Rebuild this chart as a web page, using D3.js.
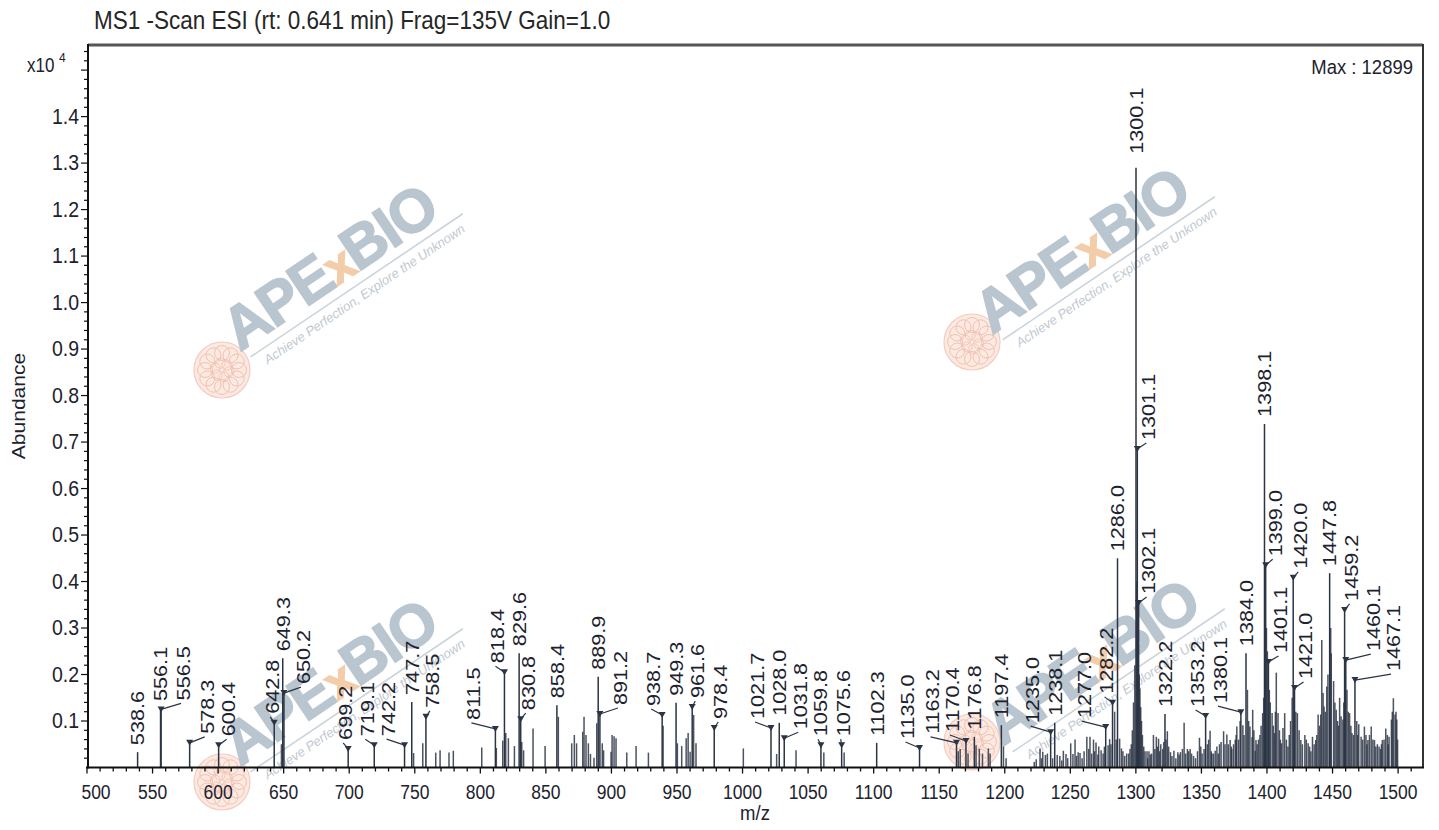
<!DOCTYPE html>
<html><head><meta charset="utf-8">
<script src="https://cdn.jsdelivr.net/npm/d3@7"></script>
<style>html,body{margin:0;padding:0;background:#fff;} svg{display:block;font-family:"Liberation Sans",Arial,Helvetica,sans-serif;}</style>
</head><body><svg id="chart" width="1439" height="830"></svg>
<script>
// ---------------- DATA (abundance in units of x10^4) ----------------
const titleText = "MS1 -Scan ESI (rt: 0.641 min) Frag=135V Gain=1.0";
const maxText = "Max : 12899";
const labeledMz = [538.6, 556.1, 556.5, 578.3, 600.4, 642.8, 649.3, 650.2, 699.2, 719.1, 742.2, 747.7, 758.5, 811.5, 818.4, 829.6, 830.8, 858.4, 889.9, 891.2, 938.7, 949.3, 961.6, 978.4, 1021.7, 1028.0, 1031.8, 1059.8, 1075.6, 1102.3, 1135.0, 1163.2, 1170.4, 1176.8, 1197.4, 1235.0, 1238.1, 1277.0, 1282.2, 1286.0, 1300.1, 1301.1, 1302.1, 1322.2, 1353.2, 1380.1, 1384.0, 1398.1, 1399.0, 1401.1, 1420.0, 1421.0, 1447.8, 1459.2, 1460.1, 1467.1];
const labeledAbundance = [0.033, 0.128, 0.125, 0.053, 0.048, 0.096, 0.235, 0.160, 0.040, 0.048, 0.048, 0.141, 0.109, 0.083, 0.205, 0.246, 0.104, 0.134, 0.195, 0.115, 0.113, 0.139, 0.130, 0.085, 0.085, 0.096, 0.063, 0.048, 0.048, 0.053, 0.042, 0.053, 0.057, 0.066, 0.091, 0.076, 0.096, 0.087, 0.139, 0.450, 1.2899, 0.685, 0.354, 0.115, 0.111, 0.119, 0.246, 0.739, 0.435, 0.227, 0.408, 0.171, 0.418, 0.339, 0.231, 0.188];
const minorPeaks = [
 [648.3,0.05],[749.1,0.031],[756.1,0.052],[766.0,0.032],[769.3,0.037],[776.1,0.032],[779.4,0.036],[801.1,0.043],[812.2,0.042],[817.1,0.058],[819.4,0.074],[821.4,0.063],[826.0,0.046],[831.6,0.055],[833.0,0.037],[840.2,0.084],[849.4,0.046],[859.5,0.109],[869.7,0.052],[871.7,0.070],[873.4,0.052],[878.1,0.077],[879.1,0.109],[880.6,0.070],[882.4,0.052],[884.0,0.029],[886.7,0.021],[888.8,0.095],[893.0,0.052],[894.0,0.037],[899.7,0.034],[900.5,0.070],[902.0,0.067],[903.5,0.063],[911.7,0.032],[918.8,0.046],[928.2,0.032],[939.4,0.090],[950.3,0.052],[953.6,0.046],[957.0,0.063],[958.5,0.074],[960.0,0.034],[962.7,0.113],[964.5,0.052],[1000.6,0.041],[1026.0,0.029],[1040.8,0.037],[1062.0,0.032],[1077.5,0.032],
 [1164.5,0.035],[1166.0,0.040],[1172.0,0.030],[1178.1,0.048],[1180.6,0.040],[1183.0,0.030],[1187.5,0.041],[1188.8,0.030],[1199.0,0.045],[1201.0,0.020],
 [1222.5,0.012],[1224.0,0.018],[1226.9,0.041],[1228.0,0.020],[1229.0,0.034],[1231.0,0.027],[1232.5,0.030],[1236.5,0.020],[1240.0,0.027],[1242.0,0.025],[1243.5,0.015],[1244.7,0.036],[1246.7,0.029],[1248.0,0.020],[1250.3,0.052],[1252.0,0.029],[1253.6,0.060],[1254.8,0.025],[1256.0,0.033],[1257.4,0.031],[1259.0,0.020],[1260.5,0.035],[1262.6,0.066],[1264.0,0.040],[1265.0,0.066],[1266.3,0.030],[1267.7,0.060],[1268.5,0.035],[1269.6,0.054],[1271.0,0.028],[1271.7,0.045],[1273.5,0.037],[1275.0,0.030],[1276.0,0.045],[1278.8,0.048],[1280.0,0.061],[1281.0,0.050],[1283.8,0.120],[1285.0,0.060],[1287.6,0.062],[1289.0,0.041],[1290.1,0.035],[1291.5,0.025],[1293.0,0.030],[1294.5,0.030],[1295.5,0.040],
 [1296.5,0.050],[1297.3,0.080],[1298.2,0.140],[1299.2,0.220],[1300.6,0.400],[1301.6,0.280],[1302.6,0.200],[1303.1,0.170],[1303.7,0.130],[1304.3,0.100],[1305.0,0.070],[1306.0,0.045],
 [1307.0,0.035],[1308.5,0.035],[1309.0,0.020],[1310.0,0.035],[1311.0,0.028],[1312.0,0.030],[1313.4,0.070],[1314.5,0.040],[1315.6,0.066],[1316.5,0.045],[1317.3,0.062],[1318.2,0.035],[1319.0,0.050],[1320.5,0.040],[1321.3,0.055],[1323.0,0.060],[1324.0,0.078],[1325.0,0.045],[1326.4,0.033],[1327.5,0.025],[1329.0,0.036],[1330.5,0.020],[1332.0,0.033],[1333.0,0.028],[1334.0,0.033],[1335.5,0.040],[1336.8,0.096],[1338.0,0.030],[1339.3,0.040],[1340.3,0.035],[1341.4,0.040],[1342.5,0.030],[1344.0,0.025],[1345.5,0.020],[1347.0,0.035],[1348.5,0.064],[1349.5,0.045],[1350.5,0.030],[1352.0,0.040],[1354.5,0.050],[1355.5,0.060],[1356.6,0.079],[1357.5,0.035],[1358.0,0.030],[1359.2,0.030],[1360.5,0.036],[1361.8,0.045],[1362.8,0.030],[1363.8,0.050],[1365.0,0.055],[1366.9,0.078],[1368.0,0.050],[1369.4,0.071],[1370.5,0.050],[1371.9,0.059],[1372.8,0.045],[1373.2,0.040],[1374.5,0.050],[1375.8,0.060],[1376.5,0.070],[1377.0,0.088],[1378.3,0.060],[1379.5,0.100],[1381.6,0.091],[1382.5,0.070],[1385.1,0.167],[1386.0,0.100],[1387.0,0.088],[1388.6,0.065],[1389.1,0.124],[1390.0,0.080],[1391.0,0.036],[1391.6,0.059],[1392.5,0.050],[1393.5,0.060],[1394.6,0.070],[1395.5,0.090],[1396.7,0.117],[1397.5,0.150],[1399.6,0.300],[1400.3,0.250],[1401.8,0.167],[1402.5,0.140],[1403.9,0.117],[1404.8,0.090],[1405.7,0.074],[1406.4,0.120],[1407.1,0.204],[1408.4,0.117],[1409.5,0.080],[1410.2,0.060],[1411.0,0.052],[1412.2,0.085],[1413.5,0.117],[1414.8,0.060],[1416.0,0.045],[1417.0,0.070],[1418.0,0.100],[1419.2,0.150],[1422.0,0.120],[1423.2,0.117],[1424.5,0.080],[1425.8,0.059],[1427.0,0.050],[1428.9,0.070],[1430.0,0.060],[1431.4,0.052],[1432.5,0.045],[1433.5,0.035],[1434.7,0.066],[1436.0,0.050],[1437.2,0.059],[1438.0,0.070],[1439.0,0.114],[1440.0,0.090],[1441.0,0.114],[1441.8,0.274],[1442.8,0.160],[1443.5,0.131],[1444.5,0.120],[1445.6,0.174],[1446.5,0.200],[1448.6,0.300],[1449.0,0.246],[1450.8,0.186],[1451.8,0.140],[1452.8,0.124],[1453.8,0.100],[1454.6,0.090],[1455.4,0.150],[1456.5,0.110],[1457.9,0.103],[1458.6,0.140],[1461.0,0.167],[1462.0,0.120],[1463.0,0.117],[1464.0,0.090],[1464.8,0.074],[1466.0,0.070],[1468.5,0.100],[1469.2,0.070],[1470.0,0.093],[1471.8,0.066],[1473.0,0.060],[1474.3,0.088],[1475.5,0.070],[1476.2,0.050],[1477.0,0.059],[1478.2,0.070],[1479.5,0.088],[1480.8,0.060],[1482.0,0.059],[1483.0,0.045],[1484.2,0.050],[1485.5,0.045],[1486.7,0.040],[1487.3,0.050],[1488.0,0.059],[1489.3,0.060],[1490.6,0.084],[1491.8,0.070],[1492.5,0.050],[1493.1,0.066],[1494.9,0.103],[1495.6,0.120],[1496.4,0.149],[1497.7,0.114],[1498.4,0.120],[1499.0,0.103],[1499.6,0.060]
];
const xMajorTicks = [500,550,600,650,700,750,800,850,900,950,1000,1050,1100,1150,1200,1250,1300,1350,1400,1450,1500];
const yMajorTicks = [0.1,0.2,0.3,0.4,0.5,0.6,0.7,0.8,0.9,1.0,1.1,1.2,1.3,1.4];

// ---------------- LAYOUT / STYLE ----------------
// horizontal pixel nudge of each peak label (annotation layout only)
const labelNudge = [0,0,22,17,10,-2,0,19,-3,-7,-16,0,6,-22,-7,0,7,0,0,20,-9,0,5,6,-14,0,16,-1,1,0,-12,-24,-14,0,0,-18,0,-22,-6,0,0,11,10,0,-8,-21,0,0,9,12,7,11,0,7,27,38];
const SY = 1.14;            // vertical stretch of glyphs in the reference
const INK = "#1c222e";
const PEAK = "#2b3444";
const L = 88, T = 45, R = 1423, B = 767.5;

const svg = d3.select("#chart");
svg.append("rect").attr("width",1439).attr("height",830).attr("fill","#fff");

const x = d3.scaleLinear().domain([500, 1519]).range([87, R]);
const y = d3.scaleLinear().domain([0, 1.554]).range([B, T]);

function htext(g, px, py, str, size, anchor) {
  return g.append("text").attr("transform", `translate(${px},${py}) scale(1,${SY})`)
    .attr("font-size", size).attr("text-anchor", anchor || "start").attr("fill", INK).text(str);
}
function vtext(g, px, py, str, size, anchor) {
  return g.append("text").attr("transform", `translate(${px},${py}) rotate(-90) scale(${SY},1)`)
    .attr("font-size", size).attr("text-anchor", anchor || "start").attr("fill", INK).text(str);
}

// ---------------- WATERMARKS ----------------
const wmData = [
  {tx:240, ty:352, bx:222, by:370},
  {tx:992, ty:335, bx:972, by:342},
  {tx:240, ty:767, bx:222, by:782},
  {tx:1002, ty:747, bx:972, by:742}
];
const wm = svg.append("g").attr("class","watermarks");
wmData.forEach(w => {
  const b = wm.append("g").attr("transform", `translate(${w.bx},${w.by})`).attr("opacity",0.8);
  b.append("circle").attr("r",28).attr("fill","#fbe4db").attr("stroke","#f1c0ae").attr("stroke-width",1.2);
  d3.range(0,360,30).forEach(a => {
    const r = a*Math.PI/180;
    b.append("circle").attr("cx",17*Math.cos(r)).attr("cy",17*Math.sin(r)).attr("r",7.5)
      .attr("fill","none").attr("stroke","#eeb39e").attr("stroke-width",1);
  });
  d3.range(15,360,60).forEach(a => {
    const r = a*Math.PI/180;
    b.append("circle").attr("cx",7*Math.cos(r)).attr("cy",7*Math.sin(r)).attr("r",5)
      .attr("fill","none").attr("stroke","#eeb39e").attr("stroke-width",0.9);
  });
  const g = wm.append("g").attr("transform", `translate(${w.tx},${w.ty}) rotate(-34)`);
  const t = g.append("text").attr("font-size",60).attr("font-weight","bold").attr("fill","#b9c5cf")
    .attr("stroke","#b9c5cf").attr("stroke-width",1.5).attr("letter-spacing",-2);
  t.append("tspan").text("APE");
  t.append("tspan").attr("fill","#f3cda9").attr("stroke","#f3cda9").attr("font-size",48).text("x");
  t.append("tspan").text("BIO");
  g.append("line").attr("x1",6).attr("x2",262).attr("y1",10).attr("y2",10).attr("stroke","#cbd4da").attr("stroke-width",1.6);
  g.append("text").attr("x",16).attr("y",26).attr("font-size",13).attr("font-style","italic")
    .attr("fill","#c0c9d1").text("Achieve Perfection, Explore the Unknown");
});

// ---------------- PEAKS ----------------
const peaks = svg.append("g").attr("stroke", PEAK).attr("stroke-width", 1.5);
peaks.selectAll("line.minor").data(minorPeaks).join("line").attr("class","minor")
  .attr("x1", d => x(d[0])).attr("x2", d => x(d[0])).attr("y1", B).attr("y2", d => y(d[1]))
  .attr("stroke-opacity", 0.85);
const labeled = labeledMz.map((m,i) => ({mz:m, ab:labeledAbundance[i], dx:labelNudge[i]}));
peaks.selectAll("line.major").data(labeled).join("line").attr("class","major")
  .attr("x1", d => x(d.mz)).attr("x2", d => x(d.mz)).attr("y1", B).attr("y2", d => y(d.ab));

// ---------------- PEAK LABELS ----------------
const lab = svg.append("g");
labeled.forEach(d => {
  const px = x(d.mz), py = y(d.ab);
  const flagged = d.dx !== 0;
  const lx = px + d.dx;
  const lb = py - (flagged ? 9 : (d.ab > 1 ? 14 : 7));
  if (flagged) {
    lab.append("line").attr("x1",px).attr("y1",py).attr("x2",lx-2).attr("y2",lb+3)
      .attr("stroke",PEAK).attr("stroke-width",1.2);
    lab.append("path").attr("d",`M${px-3.5},${py-3} L${px+3.5},${py-3} L${px},${py+3} Z`).attr("fill",PEAK);
  }
  vtext(lab, lx, lb, d.mz.toFixed(1), 19, "start").attr("dy","0.36em");
});

// ---------------- AXES ----------------
const ax = svg.append("g").attr("stroke", "#111");
d3.range(500, 1511, 10).forEach(v => {
  const major = v % 50 === 0;
  ax.append("line").attr("x1",x(v)).attr("x2",x(v)).attr("y1",B).attr("y2",B + (major?6:4)).attr("stroke-width",1.3);
});
xMajorTicks.forEach((v,i) => {
  htext(svg, x(v) + (i===0 ? 9 : 0), 799, String(v), 17.5, "middle");
});
d3.range(0.02, 1.551, 0.02).forEach(v => {
  const major = Math.abs(v*10 - Math.round(v*10)) < 1e-6;
  ax.append("line").attr("x1",L).attr("x2",L - (major?7:4)).attr("y1",y(v)).attr("y2",y(v)).attr("stroke-width",1.2);
});
yMajorTicks.forEach(v => {
  htext(svg, 79, y(v) + 7, v.toFixed(1), 19.5, "end");
});
const xe = svg.append("text").attr("transform",`translate(27,72) scale(1,${SY})`).attr("fill",INK).attr("font-size",17);
xe.append("tspan").text("x10 ");
xe.append("tspan").attr("font-size",12).attr("dy",-9).text("4");

// frame
svg.append("line").attr("x1",L).attr("x2",R).attr("y1",T).attr("y2",T).attr("stroke","#555").attr("stroke-width",3);
svg.append("line").attr("x1",R).attr("x2",R).attr("y1",T-1).attr("y2",B).attr("stroke","#333").attr("stroke-width",2);
svg.append("line").attr("x1",L).attr("x2",L).attr("y1",T-1).attr("y2",B+1).attr("stroke","#111").attr("stroke-width",2);
svg.append("line").attr("x1",86).attr("x2",R+1).attr("y1",B).attr("y2",B).attr("stroke","#111").attr("stroke-width",2);

// titles
htext(svg, 94, 29, titleText, 22.5, "start").attr("fill","#262626");
htext(svg, 1413, 74, maxText, 18.5, "end");
vtext(svg, 25, 406, "Abundance", 18.5, "middle");
htext(svg, 755, 820, "m/z", 18.5, "middle");
</script></body></html>
